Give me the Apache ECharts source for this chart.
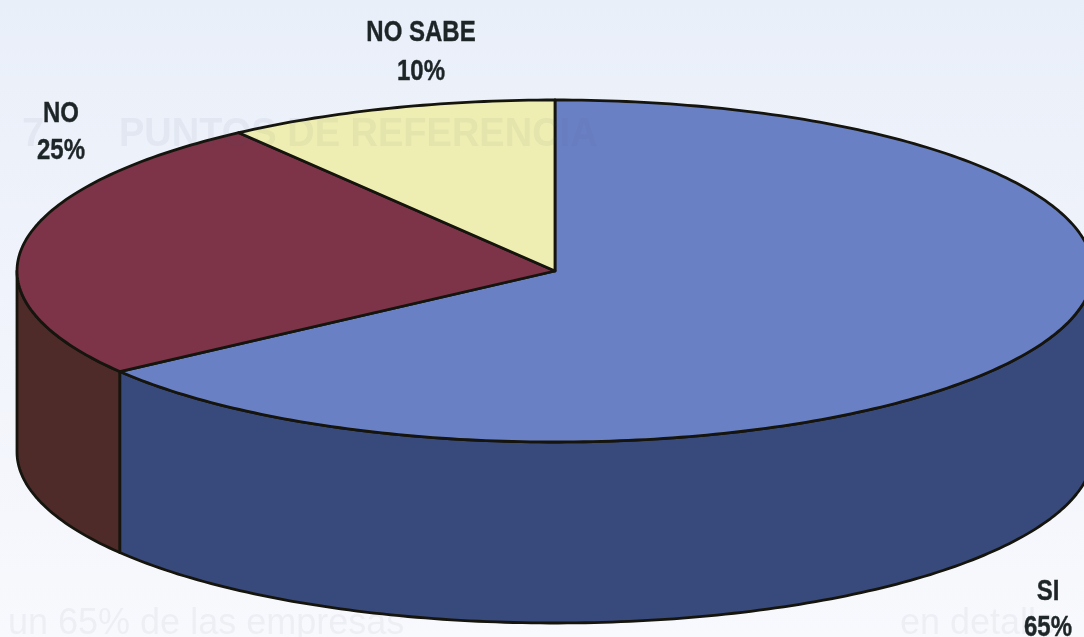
<!DOCTYPE html>
<html>
<head>
<meta charset="utf-8">
<style>html,body{margin:0;padding:0;background:#f3f5fb}#c{width:1084px;height:637px}</style>
<script src="https://cdn.jsdelivr.net/npm/echarts@6/dist/echarts.min.js"></script>
</head>
<body>
<div id="c"></div>
<script>
const categories = ['SI', 'NO', 'NO SABE'];
const values = [65, 25, 10];
const valueLabels = ['65%', '25%', '10%'];
const showThroughText = ['7.', 'PUNTOS DE REFERENCIA', 'un 65% de las empresas', 'en detalle'];

const topColors = ['#6a80c5', '#7d3348', '#eeeeb2'];
const sideColors = ['#38497b', '#4e2a29', '#b5b57e'];
const labelAnchors = [[1048, 592, 628], [61, 114, 151], [421, 33, 72]];
const ghostLayout = [
  { x: 22, y: 135, font: 'bold 40px "Liberation Sans"' },
  { x: 119, y: 135, font: 'bold 40px "Liberation Sans"', scaleX: 0.95 },
  { x: 8, y: 624, font: '36px "Liberation Sans"' },
  { x: 900, y: 624, font: '36px "Liberation Sans"' }
];
const DEPTH = 181, OUTLINE = '#15150e', STROKE = 2.8;
const total = values.reduce((a, b) => a + b, 0);

function angleRange(i) {
  let s = 0;
  for (let k = 0; k < i; k++) s += values[k];
  return [s / total * 2 * Math.PI, (s + values[i]) / total * 2 * Math.PI];
}
function arc(api, a0, a1, dy) {
  const n = Math.max(2, Math.ceil((a1 - a0) * 60)), pts = [];
  for (let k = 0; k <= n; k++) {
    const t = a0 + (a1 - a0) * k / n;
    const p = api.coord([Math.sin(t), Math.cos(t)]);
    pts.push([p[0], p[1] + dy]);
  }
  return pts;
}
function renderItem(params, api) {
  const i = params.dataIndex;
  const [a0, a1] = angleRange(i);
  const children = [];
  const w0 = Math.max(a0, Math.PI / 2), w1 = Math.min(a1, 3 * Math.PI / 2);
  if (w1 > w0) {
    const upper = arc(api, w0, w1, 0), lower = arc(api, w0, w1, DEPTH).reverse();
    children.push({
      type: 'polygon',
      shape: { points: upper.concat(lower) },
      style: { fill: sideColors[i], stroke: OUTLINE, lineWidth: STROKE, lineJoin: 'round' }
    });
  }
  const centre = api.coord([0, 0]);
  children.push({
    type: 'polygon',
    shape: { points: [centre].concat(arc(api, a0, a1, 0)) },
    style: { fill: topColors[i], stroke: OUTLINE, lineWidth: STROKE, lineJoin: 'round' }
  });
  const font = 'bold 30px "Liberation Sans", Arial, sans-serif';
  [categories[i], valueLabels[i]].forEach((txt, k) => {
    children.push({
      type: 'text', x: labelAnchors[i][0], y: labelAnchors[i][k + 1],
      scaleX: 0.8, z2: 10,
      style: { text: txt, font, fill: '#1d2527', stroke: '#1d2527', lineWidth: 0.4, textAlign: 'center', textVerticalAlign: 'middle' }
    });
  });
  return { type: 'group', children };
}

const chart = echarts.init(document.getElementById('c'), null, { renderer: 'canvas' });
chart.setOption({
  animation: false,
  backgroundColor: {
    type: 'linear', x: 0, y: 0, x2: 0, y2: 1,
    colorStops: [{ offset: 0, color: '#e9eff9' }, { offset: 0.45, color: '#f0f3fb' }, { offset: 1, color: '#f8f9fd' }]
  },
  grid: { left: 17, top: 100, right: 0, height: 342, containLabel: false },
  xAxis: { type: 'value', min: -1, max: 0.9833, show: false },
  yAxis: { type: 'value', min: -1, max: 1, show: false },
  graphic: showThroughText.map((t, i) => ({
    type: 'text', z: 50, silent: true,
    x: ghostLayout[i].x, y: ghostLayout[i].y, scaleX: ghostLayout[i].scaleX || 1,
    style: {
      text: t, font: ghostLayout[i].font, fill: 'rgba(70,78,95,0.06)',
      textVerticalAlign: 'middle', shadowBlur: 4, shadowColor: 'rgba(70,78,95,0.06)'
    }
  })),
  series: [{
    type: 'custom',
    coordinateSystem: 'cartesian2d',
    clip: false,
    silent: true,
    renderItem,
    data: values.map((v, i) => ({ name: categories[i], value: [0, 0, v] }))
  }]
});
</script>
</body>
</html>
